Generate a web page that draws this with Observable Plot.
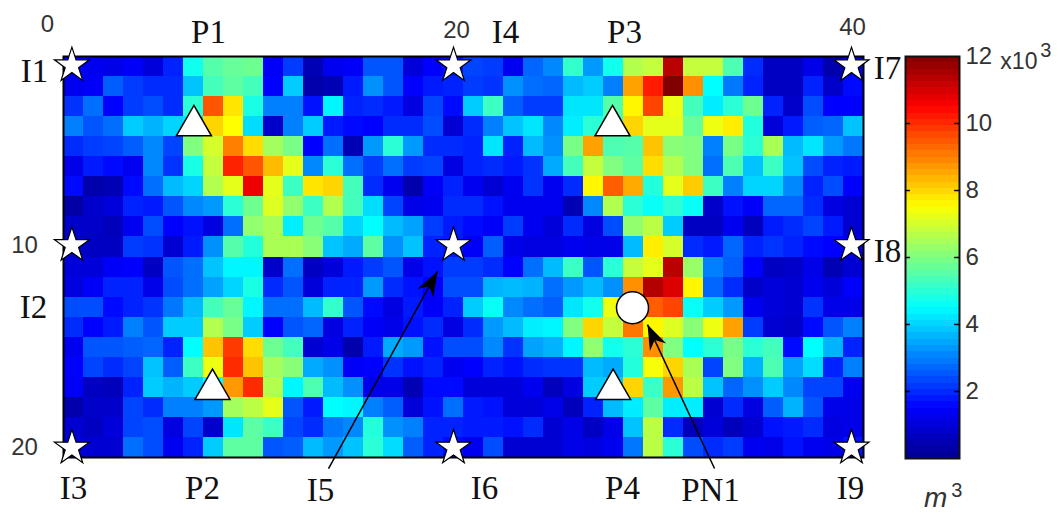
<!DOCTYPE html>
<html>
<head>
<meta charset="utf-8">
<style>
html,body{margin:0;padding:0;background:#fff;}
#chart{position:relative;width:1061px;height:515px;overflow:hidden;}
#chart svg{position:absolute;top:0;background:transparent;}
</style>
<script src="https://cdn.jsdelivr.net/npm/d3@7"></script>
<script src="https://cdn.jsdelivr.net/npm/@observablehq/plot@0.6"></script>
</head>
<body>
<div id="chart"></div>
<script>
// Volume (x10^3 m^3) per grid cell: 20 rows of 40 columns
const volume = [
[1.4,1.3,1.2,1.4,1.0,1.9,4.7,5.5,5.7,5.8,1.4,2.2,0.5,1.3,1.4,2.5,2.5,1.0,1.5,1.7,2.3,2.2,1.3,2.7,3.1,5.1,3.3,4.7,6.6,6.8,11.3,6.8,6.8,5.4,2.0,0.7,0.7,1.2,0.4,1.3],
[1.3,1.4,2.6,2.2,2.0,2.0,3.8,5.3,5.6,5.3,1.5,3.9,0.4,0.5,1.8,3.2,2.5,1.5,1.8,1.9,2.2,2.1,3.2,2.8,2.7,3.7,3.9,3.0,8.6,10.2,12.0,8.8,4.5,2.9,1.9,0.7,0.7,1.9,0.8,1.6],
[2.1,2.8,1.5,2.2,2.4,2.0,5.0,9.5,7.8,4.8,3.0,3.0,1.7,4.4,1.9,2.0,1.8,1.1,2.3,1.6,3.9,5.2,2.6,2.2,2.2,4.2,4.2,5.5,7.6,9.7,7.3,5.3,4.3,5.0,5.8,1.9,0.8,2.4,1.5,1.5],
[3.0,2.5,2.8,3.9,3.6,4.0,4.2,8.0,7.5,4.1,0.8,3.0,3.9,1.8,1.6,1.5,2.0,2.0,2.4,0.9,2.0,3.0,3.8,4.2,3.1,4.3,5.0,5.2,8.0,7.2,7.2,5.7,7.3,7.7,4.9,1.0,1.8,2.6,2.7,3.8],
[2.0,2.2,2.3,2.6,3.1,2.3,6.0,7.0,9.0,7.9,6.4,5.9,1.5,2.8,0.5,3.3,5.0,3.3,2.0,2.0,1.9,4.2,1.9,3.7,3.2,5.9,8.6,5.4,5.5,8.2,6.1,6.0,3.0,5.9,5.0,6.5,3.7,4.2,3.3,2.9],
[1.2,1.8,1.6,1.3,3.1,2.1,4.8,6.8,10.1,9.5,8.3,7.2,3.1,5.0,2.8,2.2,2.8,2.2,2.3,1.1,1.9,2.0,1.8,2.1,3.5,5.3,6.8,6.0,5.6,7.9,6.6,6.0,2.8,5.4,3.8,5.2,3.8,2.4,1.9,1.8],
[1.6,0.4,0.5,1.6,2.8,3.7,4.0,6.6,7.2,10.7,7.2,5.2,7.8,8.0,5.3,2.0,1.3,0.4,1.4,1.9,1.3,0.9,1.3,2.1,1.3,2.0,7.6,9.4,8.5,4.9,7.2,8.1,5.2,3.0,4.0,4.0,3.1,1.9,2.4,1.5],
[0.3,0.8,1.0,1.9,1.8,2.5,3.1,3.3,5.0,5.8,7.1,6.2,5.2,6.6,5.3,4.1,2.3,1.2,1.3,2.0,2.0,1.7,1.3,1.3,1.3,0.5,3.1,6.6,5.0,4.6,5.0,4.6,0.8,1.7,1.4,2.7,2.7,2.0,1.1,0.9],
[0.8,0.8,0.6,1.3,2.4,1.5,1.7,1.1,2.8,6.2,6.5,4.3,5.8,5.5,4.0,4.5,3.7,3.4,2.2,1.8,1.6,1.4,2.2,1.3,1.0,2.0,1.1,2.4,6.2,6.7,3.9,0.7,0.7,1.3,0.6,1.8,2.0,2.3,1.8,0.9],
[0.8,0.7,0.7,2.2,2.1,0.9,1.8,3.2,5.5,4.9,6.5,6.5,6.1,3.8,3.5,5.6,3.2,3.8,1.9,1.8,1.4,2.6,1.2,1.1,1.1,1.3,1.2,1.2,3.7,7.7,7.0,2.0,1.8,2.7,1.9,2.1,1.9,1.6,1.5,1.3],
[1.0,1.0,1.4,1.5,0.7,2.5,2.8,3.8,4.4,4.4,0.8,2.8,0.7,1.0,1.8,2.2,2.5,1.2,1.7,2.2,2.2,2.0,1.5,2.8,3.7,5.2,2.5,5.0,6.8,7.2,11.3,6.3,3.0,2.6,1.5,0.7,0.8,1.2,0.5,0.9],
[1.1,1.4,1.9,1.9,1.2,2.4,2.8,3.4,4.0,4.8,2.0,2.5,1.0,1.9,1.9,3.3,2.0,1.7,1.5,2.4,2.4,3.6,3.7,3.6,2.8,3.3,3.7,3.2,8.8,11.4,10.9,7.6,2.7,2.0,0.8,1.0,0.9,1.3,1.0,1.5],
[2.4,2.4,1.6,1.9,2.1,2.9,3.7,5.3,5.7,4.4,2.8,2.8,3.7,5.1,2.5,1.6,1.1,1.8,1.4,1.9,3.9,4.6,3.1,2.8,2.6,4.2,4.7,7.3,8.0,9.4,9.7,4.6,3.9,3.3,1.3,1.0,0.9,2.1,1.2,1.2],
[2.0,1.5,1.8,3.0,2.5,3.9,3.9,6.6,5.9,3.9,1.5,2.5,2.7,1.1,1.9,1.4,1.2,1.7,2.0,1.1,2.0,3.3,3.7,4.3,4.4,6.0,8.0,6.8,9.1,7.6,7.1,6.1,7.3,8.6,2.2,0.9,0.8,1.6,2.5,3.0],
[1.3,2.5,2.5,2.6,2.7,1.9,4.5,8.2,9.8,7.9,5.8,5.3,0.9,1.2,0.4,1.8,3.5,3.3,1.7,2.4,2.4,3.1,2.1,3.4,3.6,4.4,6.2,4.7,5.0,8.8,6.0,4.5,5.0,5.9,5.0,5.3,1.6,4.5,3.6,1.9],
[1.5,2.3,2.0,2.3,3.8,2.6,5.2,7.3,10.0,8.2,6.4,6.1,3.5,3.2,1.4,1.5,2.1,1.7,1.9,1.3,1.5,1.9,1.7,2.0,2.1,2.1,3.7,3.5,4.9,7.4,8.0,6.5,2.3,6.0,3.6,5.4,3.4,4.1,1.9,3.0],
[1.4,0.7,0.6,1.9,3.9,3.6,3.9,4.5,8.7,10.0,6.6,4.4,5.4,3.7,3.2,1.2,1.2,0.5,1.6,1.6,1.0,1.0,1.0,1.3,0.6,1.1,3.9,3.9,8.0,5.2,8.7,6.7,3.8,2.7,3.2,3.9,3.1,2.3,2.3,1.3],
[0.4,0.8,0.8,2.3,2.0,3.0,3.0,3.3,6.4,6.7,7.2,2.5,1.8,4.5,4.4,3.0,2.6,1.0,1.7,2.8,1.8,1.7,1.0,1.0,1.2,0.6,1.9,3.7,4.3,5.6,4.3,4.3,0.9,2.0,1.1,2.6,3.6,2.5,1.2,1.2],
[0.9,0.7,1.0,2.3,2.4,1.1,2.3,0.8,4.2,5.6,5.2,2.3,2.0,2.9,3.1,4.9,3.2,3.0,1.9,1.9,1.8,1.8,1.7,2.0,0.9,1.2,0.7,1.2,3.8,6.7,2.0,0.6,1.0,0.6,0.9,1.7,1.8,2.0,1.1,1.2],
[1.0,0.9,0.9,2.8,2.4,1.3,1.9,3.9,5.6,5.6,2.5,2.6,3.7,3.3,3.8,5.0,4.1,2.6,1.9,1.6,1.3,2.4,0.9,0.9,0.9,1.2,1.1,1.3,2.9,6.7,5.0,2.4,2.0,2.2,1.3,1.2,1.7,1.3,1.2,1.7]
];
const jetDomain = [0, 1.5, 4.5, 7.5, 10.5, 12];
const jetColors = ["#00008f", "#0000ff", "#00ffff", "#ffff00", "#ff0000", "#800000"];
const colorbarTicks = [2, 4, 6, 8, 10, 12];
const colorLevels = 64;

// Annotations, in grid units
const starX = [0.42, 19.5, 39.4];
const starY = [0.45, 9.42, 19.52];
const injectors = starY.flatMap(y => starX.map(x => ({x, y})));
const producers = [{x: 6.52, y: 3.45}, {x: 27.45, y: 3.45}, {x: 7.45, y: 16.6}, {x: 27.48, y: 16.6}];
const newProducer = [{x: 28.45, y: 12.53}];
const arrows = [
  {x1: 13.25, y1: 20.55, x2: 18.7, y2: 10.72, angle: 29},
  {x1: 32.55, y1: 20.55, x2: 29.2, y2: 13.37, angle: -25}
];
const wellLabels = [
  ["I1", -1.45, 0.75], ["P1", 7.25, -1.2], ["I4", 22.1, -1.2], ["P3", 28.05, -1.2],
  ["I7", 41.2, 0.6], ["I8", 41.2, 9.73], ["I2", -1.5, 12.52], ["I3", 0.5, 21.55],
  ["P2", 6.95, 21.55], ["I5", 12.85, 21.65], ["I6", 21.05, 21.55], ["P4", 27.95, 21.55],
  ["PN1", 32.35, 21.65], ["I9", 39.35, 21.55]
].map(([t, x, y]) => ({t, x, y}));
const gridLabels = [
  ["0", -0.8, -1.6], ["20", 19.65, -1.3], ["40", 39.45, -1.45],
  ["10", -1.95, 9.43], ["20", -1.95, 19.5]
].map(([t, x, y]) => ({t, x, y}));

const cells = volume.flatMap((row, r) => row.map((v, c) => ({c, r, v})));
const levels = d3.range(colorLevels).map(i => ({
  lo: i * 12 / colorLevels, hi: (i + 1) * 12 / colorLevels, mid: (i + 0.5) * 12 / colorLevels
}));

const colorScale = {type: "linear", domain: jetDomain, range: jetColors, interpolate: "rgb"};
const serif = "'Liberation Serif','Times New Roman',serif";
const sans = "'Liberation Sans',Arial,sans-serif";

const arrowHead = {draw(ctx) {
  ctx.moveTo(0, 0); ctx.lineTo(9, 25); ctx.lineTo(0, 17); ctx.lineTo(-9, 25); ctx.closePath();
}};

const main = Plot.plot({
  width: 1061, height: 515,
  marginLeft: 63, marginRight: 198, marginTop: 56, marginBottom: 58,
  x: {domain: [0, 40], axis: null},
  y: {domain: [0, 20], reverse: true, axis: null},
  color: colorScale,
  style: {background: "transparent", overflow: "visible"},
  marks: [
    Plot.rect(cells, {x1: "c", x2: d => d.c + 1, y1: "r", y2: d => d.r + 1, fill: "v", shapeRendering: "crispEdges", imageFilter: "blur(0.7px)"}),
    Plot.frame({stroke: "#000", strokeWidth: 2}),
    Plot.dot(injectors, {x: "x", y: "y", symbol: "star", r: 11, fill: "#fff", stroke: "#000", strokeWidth: 1.2}),
    Plot.dot(producers, {x: "x", y: "y", symbol: "triangle", r: 13, fill: "#fff", stroke: "#000", strokeWidth: 1.5}),
    Plot.dot(newProducer, {x: "x", y: "y", r: 16, fill: "#fff", stroke: "#000", strokeWidth: 1.5}),
    Plot.link(arrows, {x1: "x1", y1: "y1", x2: "x2", y2: "y2", stroke: "#000", strokeWidth: 1.5}),
    Plot.dot(arrows, {x: "x2", y: "y2", symbol: arrowHead, rotate: "angle", r: 5, fill: "#000", stroke: "none"}),
    Plot.text(wellLabels, {x: "x", y: "y", text: "t", fontFamily: serif, fontSize: 33, fill: "#111", lineAnchor: "middle"}),
    Plot.text(gridLabels, {x: "x", y: "y", text: "t", fontFamily: sans, fontSize: 24, fill: "#333", lineAnchor: "middle"})
  ]
});
main.style.left = "0px";

const bar = Plot.plot({
  width: 171, height: 515,
  marginLeft: 15, marginRight: 102, marginTop: 56, marginBottom: 57,
  x: {domain: [0, 1], axis: null},
  y: {domain: [0, 12], axis: null},
  color: colorScale,
  style: {background: "transparent", overflow: "visible"},
  marks: [
    Plot.rect(levels, {x1: 0, x2: 1, y1: "lo", y2: "hi", fill: "mid", shapeRendering: "crispEdges"}),
    Plot.frame({stroke: "#111", strokeWidth: 2}),
    Plot.ruleY(colorbarTicks.slice(0, 5), {x1: 0, x2: 0.09, stroke: "#000", strokeWidth: 1.5}),
    Plot.ruleY(colorbarTicks.slice(0, 5), {x1: 0.91, x2: 1, stroke: "#000", strokeWidth: 1.5}),
    Plot.axisY(colorbarTicks, {anchor: "right", tickSize: 0, tickPadding: 6, fontSize: 24, fontFamily: sans, fill: "#333", label: null}),
    Plot.text(["x10"], {x: 2.1, y: 11.85, fontFamily: sans, fontSize: 23, fill: "#333", lineAnchor: "middle"}),
    Plot.text(["3"], {x: 2.6, y: 12.18, fontFamily: sans, fontSize: 20, fill: "#333", lineAnchor: "middle"}),
    Plot.text(["m"], {x: 0.56, y: -1.18, fontFamily: sans, fontStyle: "italic", fontSize: 28, fill: "#333", lineAnchor: "middle"}),
    Plot.text(["3"], {x: 0.95, y: -0.95, fontFamily: sans, fontSize: 20, fill: "#333", lineAnchor: "middle"})
  ]
});
bar.style.left = "890px";

const host = document.getElementById("chart");
host.append(main, bar);
</script>
</body>
</html>
